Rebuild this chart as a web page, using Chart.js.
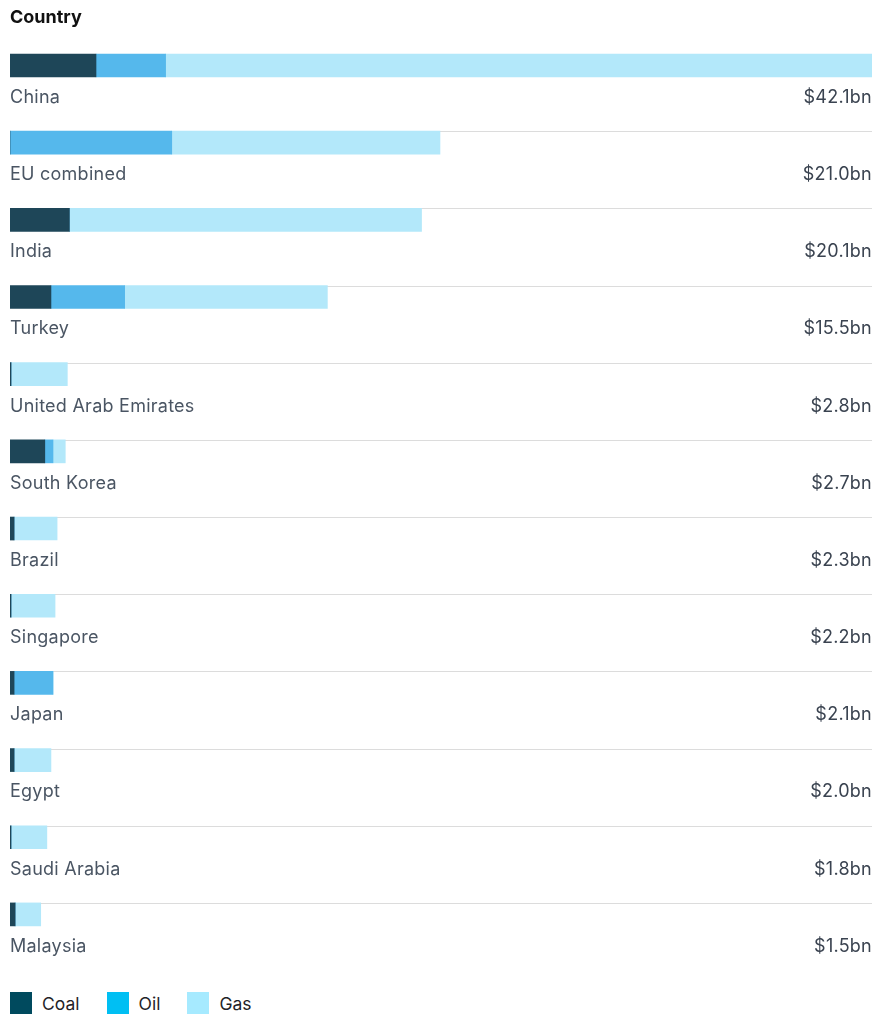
<!DOCTYPE html>
<html>
<head>
<meta charset="utf-8">
<script src="https://cdn.jsdelivr.net/npm/chart.js@4"></script>
<style>
    body { margin: 0; background: #fff; font-family: Inter, "Noto Sans", sans-serif; }
    .wrap { position: relative; width: 887px; height: 980px; }
    .legend { display: flex; padding-left: 10px; margin-top: 12px; }
    .legend .item { display: flex; align-items: center; margin-right: 27px; font-size: 17.5px; color: #1f2328; }
    .legend .swatch { width: 22px; height: 22px; margin-right: 10px; }
</style>
</head>
<body>
<div class="wrap"><canvas id="fossilChart"></canvas></div>
<div class="legend" id="legend"></div>
<script>
const countries = ["China", "EU combined", "India", "Turkey", "United Arab Emirates", "South Korea",
    "Brazil", "Singapore", "Japan", "Egypt", "Saudi Arabia", "Malaysia"];
const totals = [42.1, 21.0, 20.1, 15.5, 2.8, 2.7, 2.3, 2.2, 2.1, 2.0, 1.8, 1.5];
const coal = [4.2, 0, 2.9, 2.0, 0.05, 1.7, 0.2, 0.05, 0.2, 0.2, 0.05, 0.25];
const oil = [3.4, 7.9, 0, 3.6, 0, 0.4, 0, 0, 1.9, 0, 0, 0];
const gas = [34.5, 13.1, 17.2, 9.9, 2.75, 0.6, 2.1, 2.15, 0, 1.8, 1.75, 1.25];

const fuels = [
    { label: "Coal", data: coal, bar: "#1e4658", key: "#004a5e" },
    { label: "Oil", data: oil, bar: "#55b8ec", key: "#00bff3" },
    { label: "Gas", data: gas, bar: "#b3e8fa", key: "#a6eaff" }
];

// separators go under the bars, names and totals below each bar
const rowLabels = {
    id: "rowLabels",
    beforeDatasetsDraw(chart) {
        const { ctx, chartArea } = chart;
        const y = chart.scales.y;
        ctx.save();
        ctx.strokeStyle = "#dcdcdc";
        ctx.lineWidth = 1;
        countries.forEach((name, i) => {
            if (i === 0) return;
            const top = Math.round(y.getPixelForValue(i) - 11.5);
            ctx.beginPath();
            ctx.moveTo(chartArea.left, top + 0.5);
            ctx.lineTo(chartArea.right, top + 0.5);
            ctx.stroke();
        });
        ctx.restore();
    },
    afterDraw(chart) {
        const { ctx, chartArea } = chart;
        const y = chart.scales.y;
        ctx.save();
        ctx.font = "18px Inter, 'Noto Sans', sans-serif";
        ctx.letterSpacing = "0.25px";
        ctx.textBaseline = "middle";
        countries.forEach((name, i) => {
            const cy = y.getPixelForValue(i) + 32;
            ctx.fillStyle = "#4a5563";
            ctx.textAlign = "left";
            ctx.fillText(name, chartArea.left, cy);
            ctx.fillStyle = "#3a4350";
            ctx.textAlign = "right";
            ctx.fillText("$" + totals[i].toFixed(1) + "bn", chartArea.right, cy);
        });
        ctx.restore();
    }
};

const ctx = document.getElementById("fossilChart").getContext("2d");

new Chart(ctx, {
    type: "bar",
    data: {
        labels: countries,
        datasets: fuels.map(f => ({
            label: f.label,
            data: f.data,
            backgroundColor: f.bar,
            borderWidth: 0,
            barThickness: 23
        }))
    },
    options: {
        indexAxis: "y",
        responsive: true,
        maintainAspectRatio: false,
        animation: false,
        layout: { padding: { left: 10, right: 15, top: 0, bottom: 27 } },
        scales: {
            x: { stacked: true, min: 0, max: 42.1, display: false },
            y: { stacked: true, display: false }
        },
        plugins: {
            legend: { display: false },
            title: {
                display: true,
                text: "Country",
                align: "start",
                color: "#111",
                font: { family: "Inter, 'Noto Sans', sans-serif", size: 18, weight: "bold", lineHeight: 1.05 },
                padding: { top: 8, bottom: 0 }
            }
        }
    },
    plugins: [rowLabels]
});

const legendEl = document.getElementById("legend");
fuels.forEach(f => {
    const item = document.createElement("div");
    item.className = "item";
    item.innerHTML = '<span class="swatch" style="background:' + f.key + '"></span>' + f.label;
    legendEl.appendChild(item);
});
</script>
</body>
</html>
